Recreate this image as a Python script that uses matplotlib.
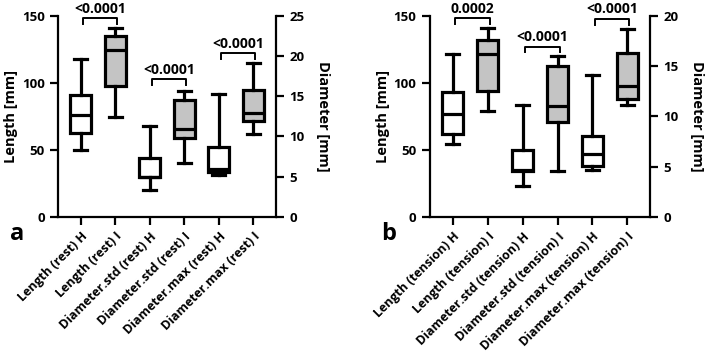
import matplotlib
matplotlib.use("Agg")
import matplotlib.pyplot as plt

plt.rcParams["font.family"] = ["Open Sans", "DejaVu Sans"]
plt.rcParams["font.weight"] = "bold"

# --- data (box stats: whislo, q1, med, q3, whishi) ---
labels_a = ["Length (rest) H", "Length (rest) I", "Diameter.std (rest) H",
            "Diameter.std (rest) I", "Diameter.max (rest) H", "Diameter.max (rest) I"]
whislo_a = [49.6, 74.5, 3.3, 6.7, 5.25, 10.3]
q1_a = [62.3, 97.9, 4.9, 9.8, 5.6, 11.9]
med_a = [75.8, 124.6, 4.95, 10.9, 6.0, 12.95]
q3_a = [91.2, 135.0, 7.35, 14.5, 8.65, 15.8]
whishi_a = [118.1, 140.8, 11.3, 15.7, 15.25, 19.2]

labels_b = ["Length (tension) H", "Length (tension) I", "Diameter.std (tension) H",
            "Diameter.std (tension) I", "Diameter.max (tension) H", "Diameter.max (tension) I"]
whislo_b = [54.1, 79.2, 3.1, 4.55, 4.7, 11.15]
q1_b = [62.0, 94.2, 4.6, 9.4, 5.1, 11.75]
med_b = [76.8, 121.4, 4.7, 11.0, 6.3, 13.05]
q3_b = [93.0, 132.0, 6.7, 15.0, 8.0, 16.3]
whishi_b = [121.4, 141.3, 11.15, 16.05, 14.15, 18.7]

# p-values: (left box, label, bracket top, which axis)
pvals_a = [(1, "<0.0001", 148.3, "len"), (3, "<0.0001", 17.1, "dia"), (5, "<0.0001", 20.35, "dia")]
pvals_b = [(1, "0.0002", 148.3, "len"), (3, "<0.0001", 16.95, "dia"), (5, "<0.0001", 19.7, "dia")]

LW = 2.3
GREY = "#c4c4c4"


def panel(ax, labels, lo, q1, med, q3, hi, dia_max, pvals, letter):
    ax2 = ax.twinx()
    stats = []
    for i in range(6):
        stats.append(dict(whislo=lo[i], q1=q1[i], med=med[i], q3=q3[i], whishi=hi[i]))
    props = dict(patch_artist=True, widths=0.6, showfliers=False,
                 boxprops=dict(linewidth=LW, edgecolor="black"),
                 whiskerprops=dict(linewidth=LW, color="black"),
                 capprops=dict(linewidth=LW, color="black"),
                 medianprops=dict(linewidth=LW, color="black"),
                 capwidths=0.38)
    b1 = ax.bxp(stats[:2], positions=[1, 2], **props)
    b2 = ax2.bxp(stats[2:], positions=[3, 4, 5, 6], **props)
    for j, patch in enumerate(b1["boxes"] + b2["boxes"]):
        patch.set_facecolor("white" if j % 2 == 0 else GREY)

    for a in (ax, ax2):
        a.set_xlim(0.34, 6.66)
        a.spines["top"].set_visible(False)
        for s in a.spines.values():
            s.set_linewidth(1.6)
        a.tick_params(width=1.6, length=6, labelsize=9.5)
    ax.spines["right"].set_visible(False)
    ax2.spines["left"].set_visible(False)
    ax2.spines["bottom"].set_visible(False)

    ax.set_ylim(0, 150)
    ax.set_yticks([0, 50, 100, 150])
    ax2.set_ylim(0, dia_max)
    ax2.set_yticks(range(0, dia_max + 1, 5))
    ax.set_ylabel("Length [mm]", fontsize=10.5, fontweight="bold", labelpad=3)
    ax2.set_ylabel("Diameter [mm]", fontsize=10.5, fontweight="bold", rotation=270, labelpad=18)

    ax.set_xticks(range(1, 7))
    ax.set_xticklabels(labels, rotation=45, ha="right", rotation_mode="anchor",
                       fontsize=9.0, fontweight="bold")

    for pos, txt, ytop, which in pvals:
        a = ax if which == "len" else ax2
        leg = (4.2 if which == "len" else 4.2 * dia_max / 150)
        x0, x1 = pos + 0.06, pos + 1.06
        a.plot([x0, x0, x1, x1], [ytop - leg, ytop, ytop, ytop - leg],
               color="black", lw=1.4, clip_on=False)
        a.annotate(txt, xy=((x0 + x1) / 2, ytop), xytext=(0, 2), textcoords="offset points",
                   ha="center", va="bottom", fontsize=10, fontweight="bold",
                   annotation_clip=False)

    ax.text(-0.22, -0.085, letter, transform=ax.transAxes, fontsize=17,
            fontweight="bold", ha="left", va="center")


fig = plt.figure(figsize=(7.08, 3.53), dpi=100)
ax_a = fig.add_axes([0.082, 0.386, 0.308, 0.5686])
ax_b = fig.add_axes([0.607, 0.386, 0.3117, 0.5686])

panel(ax_a, labels_a, whislo_a, q1_a, med_a, q3_a, whishi_a, 25, pvals_a, "a")
panel(ax_b, labels_b, whislo_b, q1_b, med_b, q3_b, whishi_b, 20, pvals_b, "b")

fig.savefig("out.png", dpi=100)
